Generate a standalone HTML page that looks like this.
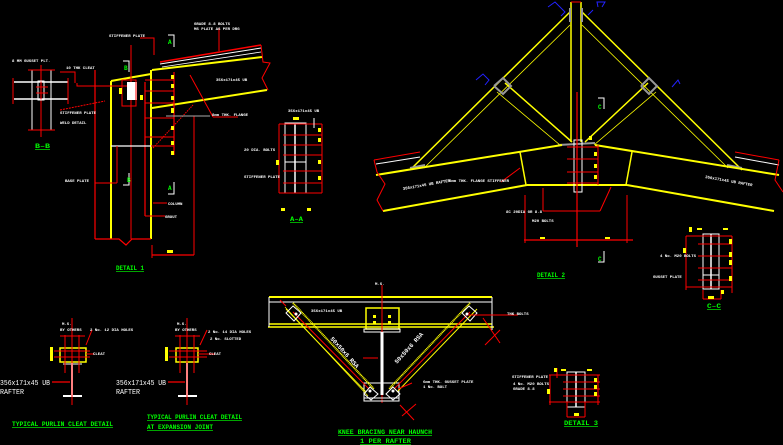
<!DOCTYPE html>
<html><head><meta charset="utf-8"><style>
html,body{margin:0;padding:0;background:#000;}
svg{display:block}
text{font-family:"Liberation Mono",monospace;}
.g{fill:#00ff00;font-size:6.5px;font-weight:bold;text-decoration:underline}
.w{fill:#fff;font-size:4px;font-weight:bold}
</style></head><body>
<svg width="783" height="445" viewBox="0 0 783 445" xmlns="http://www.w3.org/2000/svg">
<rect width="783" height="445" fill="#000"/>

<!-- ===== DETAIL 1 ===== -->
<g fill="none">
 <line x1="111" y1="81" x2="111" y2="239" stroke="#ff0" stroke-width="2"/>
 <line x1="151" y1="70" x2="151" y2="239" stroke="#ff0" stroke-width="2"/>
 <line x1="111" y1="81" x2="151" y2="74" stroke="#ff0" stroke-width="2"/>
 <line x1="152" y1="70" x2="262" y2="57" stroke="#ff0" stroke-width="2"/>
 <line x1="152" y1="108" x2="267" y2="90" stroke="#ff0" stroke-width="2"/>
 <line x1="160" y1="62" x2="261" y2="45" stroke="#f00" stroke-width="1.5"/>
 <line x1="160" y1="64" x2="261" y2="48" stroke="#fff" stroke-width="1"/>
 <line x1="162" y1="67" x2="261" y2="52" stroke="#fff" stroke-width="0.8"/>
 <polyline points="261,45 263,62 270,63 262,78 268,90" stroke="#f00"/>
 <line x1="95" y1="70" x2="95" y2="239" stroke="#f00" stroke-width="1.2"/>
 <polyline points="95,239 119,239 126,245 132,239 151,239" stroke="#f00" stroke-width="1.2"/>
 <line x1="145" y1="82" x2="145" y2="216" stroke="#f00" stroke-width="1.2"/>
 <line x1="131" y1="45" x2="131" y2="239" stroke="#f00" stroke-width="1"/>
 <line x1="174" y1="72" x2="174" y2="155" stroke="#f00" stroke-width="1.2"/>
 <line x1="145" y1="80" x2="174" y2="80" stroke="#f00"/>
 <line x1="145" y1="91" x2="174" y2="91" stroke="#f00"/>
 <line x1="145" y1="103" x2="174" y2="103" stroke="#f00"/>
 <line x1="145" y1="118" x2="174" y2="118" stroke="#f00"/>
 <line x1="145" y1="137" x2="174" y2="137" stroke="#f00"/>
 <line x1="145" y1="146" x2="174" y2="146" stroke="#f00"/>
 <line x1="194" y1="116" x2="194" y2="255" stroke="#f00"/>
 <line x1="152" y1="255" x2="194" y2="255" stroke="#f00" stroke-width="1.2"/>
 <line x1="152" y1="245" x2="152" y2="258" stroke="#f00"/>
 <line x1="153" y1="148" x2="193" y2="105" stroke="#f00" stroke-dasharray="1.5,1"/>
 <line x1="190" y1="75" x2="213" y2="117" stroke="#f00"/>
 <line x1="213" y1="117" x2="238" y2="117" stroke="#f00"/>
 <line x1="166" y1="116" x2="210" y2="116" stroke="#aaa"/>
 <line x1="111" y1="146" x2="151" y2="146" stroke="#fff" stroke-width="1.2"/>
 <line x1="117" y1="146" x2="117" y2="183" stroke="#f00"/>
 <line x1="95" y1="183" x2="117" y2="183" stroke="#f00"/>
 <polyline points="140,38 154,38 154,55" stroke="#f00"/>
 <polyline points="219,28 219,51" stroke="#f00"/>
 <polyline points="77,83 77,86 128,86" stroke="#f00"/>
 <polyline points="60,72 75,72 75,83" stroke="#f00"/>
 <polyline points="60,110 105,101" stroke="#f00" stroke-dasharray="2,1"/>
 <rect x="127" y="82" width="10" height="18" fill="#fff"/>
 <rect x="122" y="80" width="14" height="26" stroke="#f00"/>
 <rect x="119" y="88" width="3" height="6" fill="#ff0"/>
 <rect x="140" y="95" width="3" height="5" fill="#ff0"/>
 <line x1="153" y1="203" x2="167" y2="203" stroke="#f00"/>
 <line x1="145" y1="216" x2="165" y2="216" stroke="#f00"/>
 <g fill="#ff0"><rect x="171" y="75" width="3" height="4"/><rect x="171" y="84" width="3" height="4"/><rect x="171" y="96" width="3" height="4"/><rect x="171" y="108" width="3" height="5"/><rect x="171" y="126" width="3" height="4"/><rect x="171" y="141" width="3" height="4"/><rect x="171" y="151" width="3" height="4"/><rect x="167" y="250" width="6" height="3"/></g>
 <line x1="14" y1="82" x2="68" y2="82" stroke="#fff" stroke-width="1.5"/>
 <line x1="14" y1="99" x2="68" y2="99" stroke="#fff" stroke-width="1.5"/>
 <line x1="32" y1="70" x2="32" y2="130" stroke="#fff"/>
 <line x1="51" y1="70" x2="51" y2="130" stroke="#fff"/>
 <line x1="28" y1="70" x2="55" y2="70" stroke="#f00"/>
 <line x1="28" y1="130" x2="55" y2="130" stroke="#f00"/>
 <line x1="13" y1="78" x2="13" y2="104" stroke="#f00"/>
 <line x1="68" y1="78" x2="68" y2="104" stroke="#f00"/>
 <line x1="41" y1="65" x2="41" y2="137" stroke="#f00"/>
 <rect x="38" y="81" width="6" height="19" stroke="#fff"/>
 <line x1="36" y1="87" x2="48" y2="87" stroke="#f00"/>
 <line x1="36" y1="93" x2="48" y2="93" stroke="#f00"/>
 <polyline points="168,35 174,35 174,47" stroke="#fff"/>
 <polyline points="168,194 174,194 174,182" stroke="#fff"/>
 <polyline points="123,61 129,61 129,72" stroke="#fff"/>
 <polyline points="123,185 129,185 129,173" stroke="#fff"/>
 <rect x="285" y="123" width="21" height="70" stroke="#fff"/>
 <line x1="295" y1="123" x2="295" y2="193" stroke="#fff" stroke-width="1.5"/>
 <line x1="285" y1="162" x2="306" y2="162" stroke="#fff"/>
 <line x1="279" y1="124" x2="322" y2="124" stroke="#f00"/>
 <line x1="279" y1="193" x2="322" y2="193" stroke="#f00"/>
 <line x1="279" y1="124" x2="279" y2="193" stroke="#f00"/>
 <line x1="322" y1="124" x2="322" y2="193" stroke="#f00"/>
 <g stroke="#f00"><line x1="283" y1="135" x2="322" y2="135"/><line x1="283" y1="145" x2="322" y2="145"/><line x1="283" y1="155" x2="322" y2="155"/><line x1="283" y1="171" x2="322" y2="171"/><line x1="283" y1="183" x2="322" y2="183"/></g>
 <line x1="314" y1="118" x2="314" y2="128" stroke="#fff"/>
 <g fill="#ff0"><rect x="293" y="117" width="6" height="3"/><rect x="276" y="160" width="3" height="5"/><rect x="318" y="128" width="3" height="4"/><rect x="318" y="138" width="3" height="4"/><rect x="318" y="160" width="3" height="4"/><rect x="318" y="176" width="3" height="4"/><rect x="281" y="208" width="4" height="3"/><rect x="307" y="208" width="4" height="3"/></g>
</g>
<text x="35" y="148" class="g" textLength="15" lengthAdjust="spacingAndGlyphs">B–B</text>
<text x="116" y="270" class="g" textLength="28" lengthAdjust="spacingAndGlyphs">DETAIL 1</text>
<text x="290" y="221" class="g" textLength="13" lengthAdjust="spacingAndGlyphs">A–A</text>
<text x="168" y="44" class="g" style="text-decoration:none;font-size:6px">A</text>
<text x="168" y="190" class="g" style="text-decoration:none;font-size:6px">A</text>
<text x="124" y="70" class="g" style="text-decoration:none;font-size:6px">B</text>
<text x="127" y="182" class="g" style="text-decoration:none;font-size:6px">B</text>
<g class="w">
<text x="12" y="62">8 MM GUSSET PLT.</text>
<text x="109" y="37">STIFFENER PLATE</text>
<text x="194" y="25">GRADE 8.8 BOLTS</text><text x="194" y="30">MS PLATE AS PER DRG</text>
<text x="66" y="69">10 THK CLEAT</text>
<text x="60" y="114">STIFFENER PLATE</text>
<text x="60" y="124">WELD DETAIL</text>
<text x="65" y="182">BASE PLATE</text>
<text x="216" y="81">356x171x45 UB</text>
<text x="212" y="116">8mm THK. FLANGE</text>
<text x="168" y="205">COLUMN</text>
<text x="165" y="218">GROUT</text>
<text x="288" y="112">356x171x45 UB</text>
<text x="244" y="151">20 DIA. BOLTS</text>
<text x="244" y="178">STIFFENER PLATE</text>
</g>

<!-- ===== DETAIL 2 ===== -->
<g fill="none">
 <line x1="571" y1="2" x2="571" y2="142" stroke="#ff0" stroke-width="1.5"/>
 <line x1="581" y1="2" x2="581" y2="142" stroke="#ff0" stroke-width="1.5"/>
 <line x1="571" y1="2" x2="581" y2="2" stroke="#f00"/>
 <line x1="570" y1="12" x2="410" y2="170" stroke="#ff0" stroke-width="1.5"/>
 <line x1="570" y1="25" x2="424" y2="168" stroke="#ff0" stroke-width="0.8"/>
 <line x1="505" y1="83" x2="572" y2="142" stroke="#ff0" stroke-width="1.5"/>
 <line x1="497" y1="92" x2="560" y2="145" stroke="#ff0" stroke-width="0.8"/>
 <line x1="582" y1="12" x2="742" y2="170" stroke="#ff0" stroke-width="1.5"/>
 <line x1="582" y1="25" x2="728" y2="168" stroke="#ff0" stroke-width="0.8"/>
 <line x1="648" y1="83" x2="585" y2="142" stroke="#ff0" stroke-width="1.5"/>
 <line x1="656" y1="92" x2="594" y2="145" stroke="#ff0" stroke-width="0.8"/>
 <g stroke="#999" stroke-width="2"><polyline points="494,86 503,78 511,86 503,94 494,86"/><polyline points="641,86 649,78 657,86 649,94 641,86"/><line x1="570" y1="8" x2="570" y2="22"/><line x1="582" y1="8" x2="582" y2="22"/><line x1="410" y1="168" x2="425" y2="165"/><line x1="727" y1="165" x2="742" y2="168"/><line x1="558" y1="145" x2="595" y2="143"/></g>
 <g stroke="#22f"><polyline points="548,7 555,2 565,12 561,16"/><polyline points="598,7 597,2 605,2 602,7"/><polyline points="476,80 483,74 489,80 485,85"/><polyline points="672,87 678,80 680,84"/><polyline points="588,15 593,10"/></g>
 <line x1="376" y1="175" x2="562" y2="145" stroke="#ff0" stroke-width="2"/>
 <line x1="383" y1="211" x2="527" y2="185" stroke="#ff0" stroke-width="2"/>
 <line x1="527" y1="185" x2="627" y2="185" stroke="#ff0" stroke-width="2"/>
 <line x1="627" y1="185" x2="774" y2="211" stroke="#ff0" stroke-width="2"/>
 <line x1="595" y1="145" x2="779" y2="175" stroke="#ff0" stroke-width="2"/>
 <line x1="520" y1="152" x2="526" y2="185" stroke="#ff0" stroke-width="1.5"/>
 <line x1="632" y1="152" x2="626" y2="185" stroke="#ff0" stroke-width="1.5"/>
 <polyline points="374,160 420,152" stroke="#f00"/><polyline points="376,164 420,157" stroke="#fff"/>
 <polyline points="374,160 377,172 385,184 377,200 383,211" stroke="#f00"/>
 <polyline points="735,152 779,160" stroke="#f00"/><polyline points="735,157 779,165" stroke="#fff"/>
 <polyline points="779,160 775,180 783,192" stroke="#f00"/>
 <rect x="574" y="140" width="8" height="52" stroke="#fff"/>
 <line x1="577" y1="92" x2="577" y2="247" stroke="#f00" stroke-width="1.2"/>
 <g stroke="#f00"><line x1="567" y1="147" x2="598" y2="147"/><line x1="567" y1="159" x2="598" y2="159"/><line x1="567" y1="172" x2="598" y2="172"/><line x1="567" y1="183" x2="598" y2="183"/><line x1="598" y1="145" x2="598" y2="185"/></g>
 <g fill="#ff0"><rect x="594" y="152" width="3" height="4"/><rect x="594" y="164" width="3" height="4"/><rect x="594" y="175" width="3" height="4"/><rect x="589" y="136" width="3" height="4"/><rect x="540" y="237" width="5" height="2"/><rect x="605" y="237" width="5" height="2"/></g>
 <line x1="524" y1="240" x2="633" y2="240" stroke="#f00" stroke-width="1.2"/>
 <line x1="525" y1="195" x2="525" y2="243" stroke="#f00"/>
 <line x1="627" y1="195" x2="627" y2="243" stroke="#f00"/>
 <line x1="543" y1="188" x2="543" y2="211" stroke="#f00"/>
 <line x1="543" y1="211" x2="600" y2="211" stroke="#f00"/>
 <line x1="600" y1="211" x2="611" y2="187" stroke="#f00"/>
 <line x1="501" y1="182" x2="520" y2="168" stroke="#f00"/>
 <polyline points="598,98 604,98 604,109" stroke="#fff"/>
 <polyline points="598,262 604,262 604,251" stroke="#fff"/>
</g>
<text x="537" y="277" class="g" textLength="28" lengthAdjust="spacingAndGlyphs">DETAIL 2</text>
<text x="598" y="109" class="g" style="text-decoration:none;font-size:6px">C</text>
<text x="598" y="261" class="g" style="text-decoration:none;font-size:6px">C</text>
<g class="w">
<text x="403" y="190" transform="rotate(-10 403 190)">356x171x45 UB RAFTER</text>
<text x="705" y="178" transform="rotate(10 705 178)">356x171x45 UB RAFTER</text>
<text x="449" y="182">8mm THK. FLANGE STIFFENER</text>
<text x="506" y="213">8C 20DIA GR 8.8</text>
<text x="532" y="222">M20 BOLTS</text>
</g>

<!-- ===== C-C ===== -->
<g fill="none">
 <rect x="703" y="234" width="16" height="55" stroke="#fff"/>
 <line x1="711" y1="234" x2="711" y2="289" stroke="#fff" stroke-width="1.5"/>
 <line x1="703" y1="275" x2="719" y2="275" stroke="#fff"/>
 <line x1="686" y1="236" x2="732" y2="236" stroke="#f00"/>
 <line x1="686" y1="287" x2="732" y2="287" stroke="#f00"/>
 <line x1="686" y1="236" x2="686" y2="290" stroke="#f00"/>
 <line x1="732" y1="236" x2="732" y2="293" stroke="#f00"/>
 <g stroke="#f00"><line x1="698" y1="244" x2="732" y2="244"/><line x1="698" y1="256" x2="732" y2="256"/><line x1="698" y1="268" x2="732" y2="268"/><line x1="698" y1="280" x2="732" y2="280"/><line x1="703" y1="299" x2="721" y2="299"/><line x1="703" y1="290" x2="703" y2="299"/><line x1="721" y1="290" x2="721" y2="299"/></g>
 <g fill="#ff0"><rect x="689" y="227" width="3" height="5"/><rect x="697" y="228" width="5" height="2"/><rect x="723" y="228" width="5" height="2"/><rect x="683" y="248" width="3" height="5"/><rect x="729" y="239" width="3" height="5"/><rect x="729" y="252" width="3" height="5"/><rect x="729" y="260" width="3" height="5"/><rect x="729" y="276" width="3" height="5"/><rect x="708" y="296" width="6" height="3"/><rect x="721" y="290" width="3" height="4"/></g>
</g>
<text x="707" y="308" class="g" textLength="14" lengthAdjust="spacingAndGlyphs">C–C</text>
<g class="w"><text x="660" y="257">4 No. M20 BOLTS</text><text x="653" y="278">GUSSET PLATE</text></g>

<!-- ===== PURLIN CLEATS ===== -->
<g fill="none">
 <rect x="60" y="348" width="26" height="14" stroke="#ff0" stroke-width="1.5"/>
 <rect x="50" y="347" width="3" height="14" fill="#ff0"/>
 <line x1="72" y1="363" x2="72" y2="395" stroke="#fff" stroke-width="2"/>
 <line x1="63" y1="396" x2="82" y2="396" stroke="#fff" stroke-width="2"/>
 <line x1="63" y1="364" x2="82" y2="364" stroke="#fff"/>
 <g stroke="#f00"><line x1="72" y1="318" x2="72" y2="405"/><line x1="65" y1="335" x2="65" y2="373"/><line x1="79" y1="335" x2="79" y2="373"/><line x1="60" y1="336" x2="85" y2="336"/><line x1="54" y1="351" x2="90" y2="351"/><line x1="54" y1="357" x2="90" y2="357"/><line x1="86" y1="354" x2="94" y2="354"/><line x1="86" y1="345" x2="92" y2="330"/><line x1="52" y1="382" x2="70" y2="382" stroke-width="1.2"/></g>
 <rect x="176" y="348" width="22" height="14" stroke="#ff0" stroke-width="1.5"/>
 <rect x="165" y="347" width="3" height="14" fill="#ff0"/>
 <line x1="187" y1="363" x2="187" y2="395" stroke="#fff" stroke-width="2"/>
 <line x1="178" y1="396" x2="197" y2="396" stroke="#fff" stroke-width="2"/>
 <g stroke="#f00"><line x1="187" y1="318" x2="187" y2="405"/><line x1="180" y1="335" x2="180" y2="373"/><line x1="194" y1="335" x2="194" y2="373"/><line x1="175" y1="336" x2="200" y2="336"/><line x1="169" y1="351" x2="207" y2="351"/><line x1="169" y1="357" x2="207" y2="357"/><line x1="198" y1="354" x2="215" y2="354"/><line x1="200" y1="345" x2="207" y2="330"/><line x1="168" y1="382" x2="185" y2="382" stroke-width="1.2"/></g>
</g>
<g fill="#fff" font-family="Liberation Mono,monospace" font-size="7"><text x="0" y="385" textLength="50" lengthAdjust="spacingAndGlyphs">356x171x45 UB</text><text x="0" y="394" textLength="24" lengthAdjust="spacingAndGlyphs">RAFTER</text><text x="116" y="385" textLength="50" lengthAdjust="spacingAndGlyphs">356x171x45 UB</text><text x="116" y="394" textLength="24" lengthAdjust="spacingAndGlyphs">RAFTER</text></g>
<g class="w"><text x="62" y="325">M.S.</text><text x="60" y="331">BY OTHERS</text><text x="90" y="331">2 No. 12 DIA HOLES</text><text x="93" y="355">CLEAT</text><text x="177" y="325">M.S.</text><text x="175" y="331">BY OTHERS</text><text x="208" y="333">2 No. 14 DIA HOLES</text><text x="210" y="340">2 No. SLOTTED</text><text x="209" y="355">CLEAT</text></g>
<text x="12" y="426" class="g" textLength="101" lengthAdjust="spacingAndGlyphs">TYPICAL PURLIN CLEAT DETAIL</text>
<text x="147" y="419" class="g" textLength="95" lengthAdjust="spacingAndGlyphs">TYPICAL PURLIN CLEAT DETAIL</text>
<text x="147" y="429" class="g" textLength="66" lengthAdjust="spacingAndGlyphs">AT EXPANSION JOINT</text>

<!-- ===== KNEE BRACING ===== -->
<g fill="none">
 <line x1="269" y1="297" x2="492" y2="297" stroke="#ff0" stroke-width="2"/>
 <line x1="269" y1="302" x2="492" y2="302" stroke="#fff"/>
 <line x1="269" y1="324" x2="492" y2="324" stroke="#ff0" stroke-width="1.5"/>
 <line x1="268" y1="327" x2="494" y2="327" stroke="#ff0" stroke-width="1.5"/>
 <line x1="269" y1="297" x2="269" y2="327" stroke="#fff"/>
 <line x1="492" y1="297" x2="492" y2="330" stroke="#fff"/>
 <rect x="366" y="308" width="33" height="21" stroke="#ff0" stroke-width="1.5"/>
 <rect x="364" y="329" width="36" height="3" stroke="#fff"/>
 <line x1="382" y1="285" x2="382" y2="403" stroke="#f00"/>
 <line x1="382" y1="332" x2="382" y2="395" stroke="#fff" stroke-width="3"/>
 <rect x="364" y="383" width="35" height="18" stroke="#fff"/>
 <line x1="364" y1="398" x2="399" y2="398" stroke="#fff"/>
 <line x1="363" y1="358" x2="378" y2="358" stroke="#f00"/>
 <line x1="293" y1="303" x2="374" y2="389" stroke="#ff0" stroke-width="2" stroke-dasharray="1,0.6"/>
 <line x1="286" y1="309" x2="366" y2="392" stroke="#ff0"/>
 <line x1="293" y1="312" x2="369" y2="389" stroke="#f00"/>
 <line x1="285" y1="307" x2="368" y2="396" stroke="#ff0" stroke-width="0.7"/>
 <polygon points="293,306 301,313 294,321 286,313" stroke="#fff"/>
 <line x1="470" y1="303" x2="389" y2="389" stroke="#ff0" stroke-width="2" stroke-dasharray="1,0.6"/>
 <line x1="477" y1="309" x2="397" y2="392" stroke="#ff0"/>
 <line x1="470" y1="312" x2="394" y2="389" stroke="#f00"/>
 <polygon points="469,306 477,313 470,321 462,313" stroke="#fff"/>
 <polygon points="370,387 378,394 371,400 364,394" stroke="#fff"/>
 <polygon points="393,387 400,394 393,400 386,394" stroke="#fff"/>
 <circle cx="370" cy="391" r="1.5" fill="#fff"/><circle cx="393" cy="391" r="1.5" fill="#fff"/>
 <circle cx="296" cy="314" r="1.5" fill="#fff"/><circle cx="467" cy="314" r="1.5" fill="#fff"/>
 <line x1="468" y1="315" x2="518" y2="315" stroke="#f00"/>
 <line x1="483" y1="318" x2="500" y2="343" stroke="#f00"/><line x1="485" y1="345" x2="500" y2="330" stroke="#f00"/>
 <line x1="400" y1="405" x2="414" y2="420" stroke="#f00"/><line x1="402" y1="416" x2="416" y2="404" stroke="#f00"/>
 <line x1="398" y1="389" x2="412" y2="383" stroke="#f00"/>
 <line x1="286" y1="306" x2="280" y2="300" stroke="#f00"/>
 <g fill="#ff0"><rect x="373" y="315" width="3" height="3"/><rect x="388" y="315" width="3" height="3"/><rect x="373" y="321" width="3" height="3"/><rect x="388" y="321" width="3" height="3"/></g>
</g>
<g class="w"><text x="375" y="285">M.S.</text><text x="311" y="312">356x171x45 UB</text><text x="507" y="315">THK BOLTS</text><text x="423" y="383">6mm THK. GUSSET PLATE</text><text x="423" y="388">1 No. BOLT</text>
<text x="330" y="339" transform="rotate(48 330 339)" style="font-size:6px">50x50x6 RSA</text>
<text x="397" y="364" transform="rotate(-48 397 364)" style="font-size:6px">50x50x6 RSA</text></g>
<text x="338" y="434" class="g" textLength="94" lengthAdjust="spacingAndGlyphs">KNEE BRACING NEAR HAUNCH</text>
<text x="360" y="443" class="g" textLength="51" lengthAdjust="spacingAndGlyphs">1 PER RAFTER</text>

<!-- ===== DETAIL 3 ===== -->
<g fill="none">
 <rect x="567" y="372" width="18" height="35" stroke="#fff"/>
 <line x1="576" y1="372" x2="576" y2="407" stroke="#fff" stroke-width="1.5"/>
 <g stroke="#f00"><line x1="549" y1="375" x2="600" y2="375"/><line x1="549" y1="402" x2="600" y2="402"/><line x1="550" y1="375" x2="550" y2="405"/><line x1="598" y1="375" x2="598" y2="405"/><line x1="563" y1="382" x2="600" y2="382"/><line x1="563" y1="389" x2="600" y2="389"/><line x1="563" y1="396" x2="600" y2="396"/><line x1="567" y1="417" x2="585" y2="417"/><line x1="567" y1="402" x2="567" y2="417"/><line x1="585" y1="402" x2="585" y2="417"/><line x1="557" y1="368" x2="557" y2="378"/></g>
 <g fill="#ff0"><rect x="554" y="368" width="3" height="4"/><rect x="561" y="369" width="5" height="2"/><rect x="587" y="369" width="5" height="2"/><rect x="547" y="389" width="3" height="5"/><rect x="594" y="378" width="3" height="4"/><rect x="594" y="385" width="3" height="4"/><rect x="594" y="392" width="3" height="4"/><rect x="574" y="413" width="5" height="3"/></g>
</g>
<g class="w"><text x="512" y="378">STIFFENER PLATE</text><text x="513" y="385">4 No. M20 BOLTS</text><text x="513" y="390">GRADE 8.8</text></g>
<text x="564" y="425" class="g" textLength="34" lengthAdjust="spacingAndGlyphs">DETAIL 3</text>
</svg>
</body></html>
